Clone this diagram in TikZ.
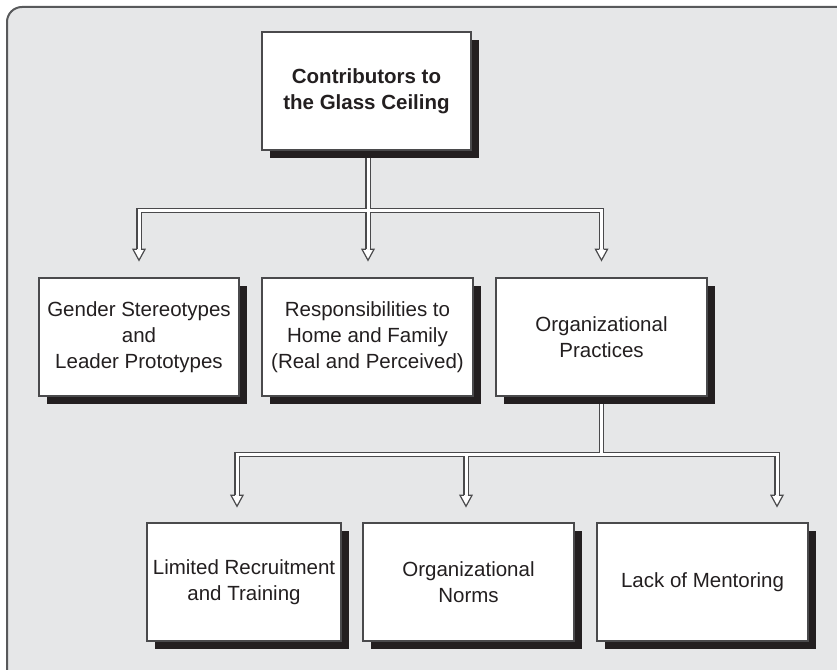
\documentclass[tikz,border=0pt]{standalone}
\usepackage{fontspec}
\setmainfont{Liberation Sans}
\usetikzlibrary{calc,shadows}
\definecolor{bgc}{HTML}{E6E7E8}
\definecolor{framec}{HTML}{58595B}
\definecolor{inkc}{HTML}{231F20}
\definecolor{edgec}{HTML}{4A4A4C}
\pgfdeclarelayer{bg}
\pgfdeclarelayer{conn}
\pgfsetlayers{bg,conn,main}
\tikzset{
  box/.style={draw=edgec, line width=1.4pt, fill=white, minimum height=118pt,
    inner sep=2pt, align=center, text=inkc,
    font=\fontsize{20.5}{26}\selectfont,
    general shadow={fill=inkc, shadow xshift=8pt, shadow yshift=-8pt}},
  titlebox/.style={box, font=\bfseries\fontsize{20.5}{26}\selectfont},
  connout/.style={draw=edgec, line width=5.4pt, line join=miter},
  connin/.style={draw=white, line width=3pt, line join=miter},
  openhead/.pic={\filldraw[fill=white, draw=edgec, line width=1.2pt, line join=miter]
    (-2.1,-11) -- (-6,-11) -- (0,0) -- (6,-11) -- (2.1,-11);}
}
\begin{document}
\begin{tikzpicture}[x=1pt,y=-1pt]
\useasboundingbox (0,0) rectangle (837,669);
\begin{pgfonlayer}{bg}
  \filldraw[fill=bgc, draw=framec, line width=2pt, rounded corners=15pt]
    (7,7) rectangle (900,730);
\end{pgfonlayer}

% nodes
\node[titlebox, minimum width=209pt] (top) at (366.5,91) {Contributors to\\the Glass Ceiling};

\node[box, minimum width=200pt] (g1) at (139,337) {Gender Stereotypes\\and\\Leader Prototypes};
\node[box, minimum width=211pt] (g2) at (367.5,337) {Responsibilities to\\Home and Family\\(Real and Perceived)};
\node[box, minimum width=211pt] (g3) at (601.5,337) {Organizational\\Practices};

\node[box, minimum width=194pt] (b1) at (244,582) {Limited Recruitment\\and Training};
\node[box, minimum width=211pt] (b2) at (468.5,582) {Organizational\\Norms};
\node[box, minimum width=211pt] (b3) at (702.5,582) {Lack of Mentoring};

% arrow tips and bases
\coordinate (t1) at ($(g1.north)+(0,-17)$);
\coordinate (t2) at ($(top.south |- g2.north)+(1.5,-17)$);
\coordinate (t3) at ($(g3.north)+(0,-17)$);
\coordinate (a1) at ($(t1)+(0,-11)$);
\coordinate (a2) at ($(t2)+(0,-11)$);
\coordinate (a3) at ($(t3)+(0,-11)$);

\coordinate (u1) at ($(b1.north)+(-7,-16)$);
\coordinate (u2) at ($(b2.north)+(-2.5,-16)$);
\coordinate (u3) at ($(b3.north)+(74.5,-16)$);
\coordinate (c1) at ($(u1)+(0,-11)$);
\coordinate (c2) at ($(u2)+(0,-11)$);
\coordinate (c3) at ($(u3)+(0,-11)$);

\coordinate (s0) at ($(top.south)+(1.5,0)$);

\begin{pgfonlayer}{conn}
  \foreach \s in {connout,connin}{
    \draw[\s] (s0) -- ++(0,59.5) -| (a1);
    \draw[\s] (s0) -- (a2);
    \draw[\s] (s0) -- ++(0,59.5) -| (a3);
    \draw[\s] (g3.south) -- ++(0,58) -| (c1);
    \draw[\s] (g3.south) -- ++(0,58) -| (c2);
    \draw[\s] (g3.south) -- ++(0,58) -| (c3);
  }
  \foreach \t in {t1,t2,t3,u1,u2,u3}{
    \pic at (\t) {openhead};
  }
\end{pgfonlayer}
\end{tikzpicture}
\end{document}
